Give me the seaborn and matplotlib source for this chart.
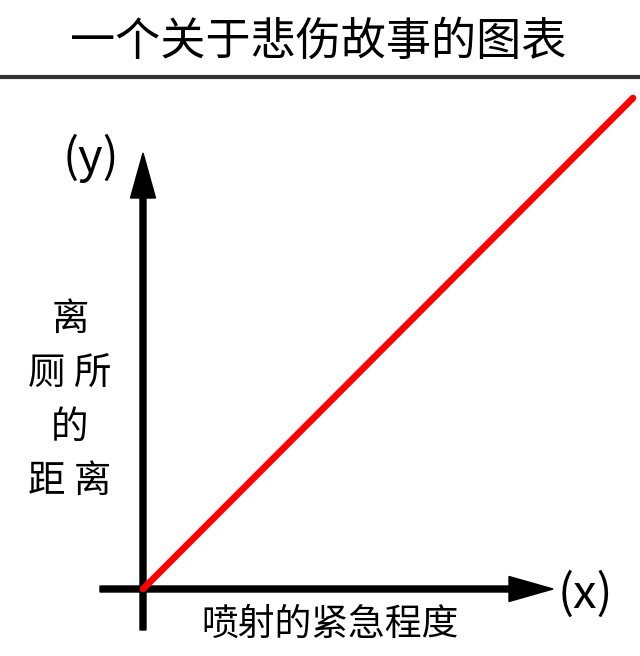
import numpy as np
import matplotlib
matplotlib.use("Agg")
import matplotlib.pyplot as plt
import seaborn as sns
import pandas as pd

# 数据：一条从原点到右上角的直线
urgency = [0.0, 1.0]
distance = [0.0, 1.0]

title_text = "一个关于悲伤故事的图表"
x_label = "喷射的紧急程度"
y_label = "离\n厕 所\n的\n距 离"

sns.set_theme(style="white")
plt.rcParams['font.family'] = ['Noto Sans CJK SC', 'DejaVu Sans']

W, H = 640, 656
fig = plt.figure(figsize=(W / 100, H / 100), dpi=100)
fig.patch.set_facecolor("white")

# 坐标原点和右上角（像素）
x0, y0 = 143, 589
x1, y1 = 633, 98
ax = fig.add_axes([x0 / W, (H - y0) / H, (x1 - x0) / W, (y0 - y1) / H])
ax.set_xlim(0, 1)
ax.set_ylim(0, 1)
ax.axis("off")

df = pd.DataFrame({"x": urgency, "y": distance})
sns.lineplot(data=df, x="x", y="y", ax=ax, color="#ff0000", linewidth=4.8,
             solid_capstyle="round", clip_on=False)

aw = x1 - x0
ah = y0 - y1
# x 轴箭头
ax.arrow((100 - x0) / aw, 0, (553 - 100) / aw, 0, transform=ax.transAxes,
         width=6 / ah, head_width=25 / ah, head_length=44 / aw,
         length_includes_head=True, color="black", clip_on=False)
# y 轴箭头
ax.arrow(0, (y0 - 630) / ah, 0, (630 - 153) / ah, transform=ax.transAxes,
         width=6 / aw, head_width=25 / aw, head_length=45 / ah,
         length_includes_head=True, color="black", clip_on=False)

def px(x, y):
    return x / W, 1 - y / H

fig.text(*px(318, 42), title_text, fontsize=32.5, ha="center", va="center", color="black")
fig.add_artist(plt.Line2D([0, 1], [1 - 77 / H, 1 - 77 / H], color="#333333", linewidth=3))

fig.text(*px(91, 158), "(y)", fontsize=34, ha="center", va="center", color="black")
fig.text(*px(585, 595), "(x)", fontsize=34, ha="center", va="center", color="black")

fig.text(*px(330, 624), x_label, fontsize=26.5, ha="center", va="center", color="black")
fig.text(*px(70, 400), y_label, fontsize=27, ha="center", va="center",
         color="black", linespacing=1.5)

fig.savefig("out.png", dpi=100, facecolor="white")
